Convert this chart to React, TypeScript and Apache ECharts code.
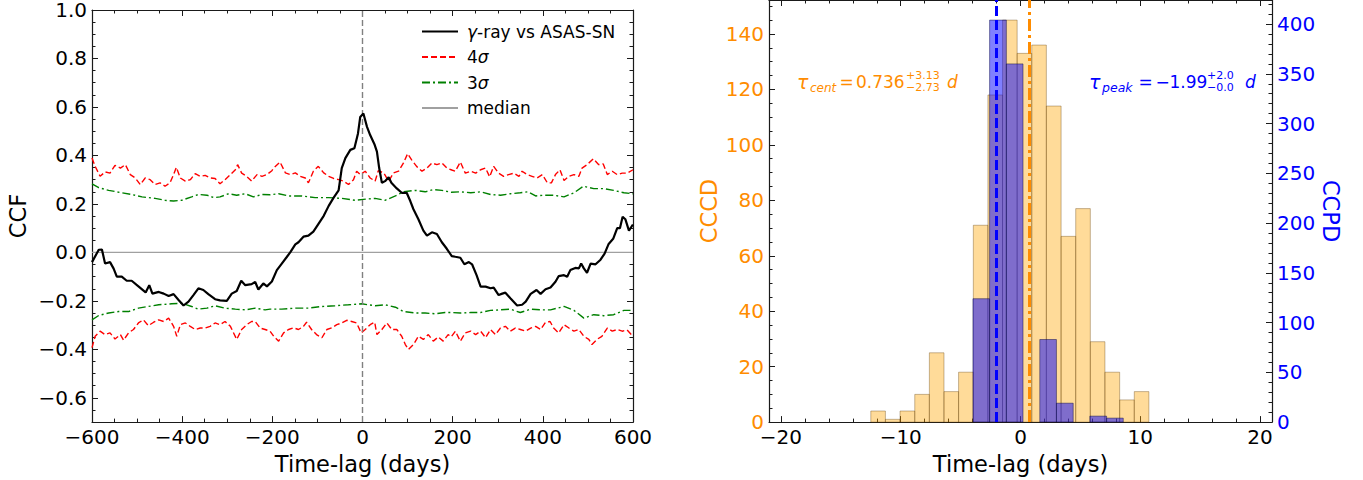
import React, { useEffect, useRef } from "react";
import * as echarts from "echarts";

// ---------- Left panel: CCF ----------
const ccfLag = [-600, -585, -578, -571, -560, -552, -545, -534, -523, -512, -497, -481, -473, -466, -452, -441, -430, -419, -408, -397, -386, -375, -364, -353, -342, -327, -316, -301, -290, -279, -269, -260, -246, -238, -231, -220, -212, -201, -190, -179, -168, -160, -149, -142, -131, -120, -109, -98, -86, -75, -64, -53, -46, -38, -27, -18, -10, -5, 2, 10, 17, 27, 32, 37, 43, 50, 58, 64, 76, 87, 98, 106, 113, 124, 135, 143, 154, 165, 176, 187, 198, 206, 217, 226, 236, 243, 253, 262, 273, 284, 291, 302, 310, 317, 328, 343, 354, 362, 373, 386, 395, 406, 417, 428, 435, 447, 454, 461, 472, 480, 485, 491, 498, 506, 517, 528, 537, 546, 556, 565, 571, 577, 583, 591, 598, 600];
const ccfVal = [-0.04, 0.011, 0.012, -0.046, -0.04, -0.067, -0.1, -0.1, -0.117, -0.117, -0.14, -0.165, -0.135, -0.17, -0.163, -0.17, -0.18, -0.172, -0.196, -0.219, -0.203, -0.176, -0.148, -0.155, -0.172, -0.193, -0.198, -0.2, -0.17, -0.159, -0.117, -0.135, -0.131, -0.122, -0.153, -0.128, -0.14, -0.12, -0.073, -0.046, -0.019, 0.001, 0.033, 0.042, 0.065, 0.069, 0.086, 0.117, 0.151, 0.192, 0.226, 0.256, 0.348, 0.389, 0.423, 0.43, 0.491, 0.559, 0.573, 0.518, 0.484, 0.444, 0.416, 0.348, 0.287, 0.294, 0.31, 0.287, 0.264, 0.246, 0.246, 0.212, 0.178, 0.137, 0.09, 0.069, 0.083, 0.076, 0.042, 0.015, -0.015, -0.018, -0.022, -0.049, -0.04, -0.049, -0.094, -0.141, -0.141, -0.148, -0.145, -0.176, -0.17, -0.166, -0.189, -0.219, -0.216, -0.203, -0.171, -0.155, -0.171, -0.152, -0.145, -0.121, -0.098, -0.094, -0.1, -0.073, -0.064, -0.066, -0.046, -0.066, -0.084, -0.046, -0.049, -0.03, -0.005, 0.035, 0.056, 0.1, 0.1, 0.147, 0.137, 0.09, 0.11, 0.115];

const sig4UpLag = [-600, -593, -582, -571, -560, -549, -537, -526, -515, -504, -493, -482, -471, -460, -449, -438, -427, -419, -413, -404, -393, -382, -371, -360, -349, -338, -327, -316, -305, -293, -282, -277, -268, -257, -246, -234, -223, -212, -201, -197, -183, -171, -160, -149, -138, -127, -120, -109, -98, -86, -75, -64, -53, -42, -31, -20, -13, -5, 6, 17, 28, 35, 47, 58, 69, 80, 91, 100, 109, 120, 132, 143, 154, 165, 176, 187, 198, 206, 217, 228, 240, 251, 262, 273, 282, 291, 302, 313, 324, 336, 347, 354, 365, 376, 387, 399, 410, 419, 428, 438, 447, 458, 469, 480, 487, 498, 512, 524, 534, 543, 554, 565, 576, 587, 600];
const sig4UpVal = [0.389, 0.355, 0.314, 0.332, 0.327, 0.359, 0.348, 0.362, 0.321, 0.307, 0.28, 0.307, 0.3, 0.28, 0.287, 0.273, 0.287, 0.321, 0.351, 0.307, 0.294, 0.3, 0.325, 0.314, 0.318, 0.307, 0.305, 0.283, 0.3, 0.321, 0.341, 0.362, 0.327, 0.314, 0.294, 0.321, 0.314, 0.321, 0.337, 0.348, 0.373, 0.328, 0.321, 0.328, 0.314, 0.307, 0.287, 0.335, 0.355, 0.328, 0.314, 0.305, 0.3, 0.294, 0.28, 0.3, 0.335, 0.321, 0.335, 0.307, 0.294, 0.337, 0.328, 0.294, 0.328, 0.335, 0.369, 0.407, 0.382, 0.355, 0.335, 0.348, 0.369, 0.362, 0.369, 0.348, 0.34, 0.335, 0.373, 0.327, 0.335, 0.327, 0.341, 0.348, 0.312, 0.355, 0.327, 0.314, 0.321, 0.327, 0.314, 0.335, 0.321, 0.314, 0.307, 0.321, 0.287, 0.287, 0.321, 0.341, 0.297, 0.314, 0.321, 0.314, 0.348, 0.362, 0.386, 0.362, 0.365, 0.321, 0.335, 0.321, 0.327, 0.327, 0.341];

const sig4LoLag = [-600, -593, -582, -571, -560, -549, -537, -530, -519, -508, -497, -486, -475, -464, -452, -441, -430, -419, -412, -404, -393, -382, -371, -360, -349, -338, -327, -316, -305, -293, -279, -268, -257, -246, -238, -227, -216, -205, -197, -186, -175, -164, -153, -142, -131, -124, -113, -102, -90, -79, -68, -57, -46, -35, -24, -13, -3, 6, 17, 27, 32, 43, 54, 65, 76, 87, 95, 102, 113, 124, 135, 146, 157, 168, 179, 190, 197, 206, 217, 228, 240, 251, 262, 273, 284, 295, 306, 317, 328, 339, 350, 362, 373, 384, 395, 406, 416, 424, 435, 447, 458, 469, 480, 491, 502, 509, 520, 531, 543, 554, 565, 576, 587, 600];
const sig4LoVal = [-0.393, -0.346, -0.325, -0.339, -0.332, -0.357, -0.339, -0.362, -0.332, -0.318, -0.291, -0.278, -0.302, -0.289, -0.278, -0.285, -0.271, -0.305, -0.346, -0.298, -0.291, -0.305, -0.318, -0.312, -0.312, -0.305, -0.291, -0.298, -0.285, -0.305, -0.359, -0.318, -0.298, -0.285, -0.285, -0.312, -0.318, -0.325, -0.346, -0.366, -0.332, -0.318, -0.311, -0.318, -0.305, -0.288, -0.318, -0.339, -0.352, -0.318, -0.311, -0.298, -0.291, -0.28, -0.285, -0.291, -0.332, -0.318, -0.298, -0.288, -0.339, -0.318, -0.291, -0.318, -0.318, -0.346, -0.38, -0.4, -0.38, -0.346, -0.359, -0.339, -0.366, -0.349, -0.366, -0.339, -0.348, -0.325, -0.366, -0.332, -0.325, -0.339, -0.325, -0.352, -0.318, -0.339, -0.312, -0.305, -0.325, -0.312, -0.318, -0.325, -0.312, -0.305, -0.318, -0.288, -0.285, -0.312, -0.332, -0.298, -0.312, -0.325, -0.318, -0.346, -0.359, -0.38, -0.359, -0.346, -0.312, -0.325, -0.318, -0.325, -0.32, -0.346];

const sig3UpLag = [-600, -585, -563, -534, -512, -489, -460, -438, -419, -401, -379, -364, -345, -330, -316, -297, -279, -260, -242, -223, -205, -186, -164, -135, -105, -75, -46, -16, 2, 28, 50, 73, 91, 117, 139, 157, 176, 197, 217, 240, 262, 284, 306, 328, 350, 367, 384, 402, 424, 447, 469, 490, 513, 535, 557, 580, 600];
const sig3UpVal = [0.283, 0.267, 0.256, 0.246, 0.239, 0.229, 0.223, 0.215, 0.212, 0.215, 0.229, 0.239, 0.236, 0.226, 0.229, 0.242, 0.236, 0.242, 0.229, 0.239, 0.238, 0.242, 0.233, 0.233, 0.226, 0.226, 0.223, 0.215, 0.219, 0.223, 0.215, 0.233, 0.25, 0.256, 0.25, 0.259, 0.256, 0.248, 0.25, 0.246, 0.25, 0.239, 0.236, 0.242, 0.246, 0.25, 0.233, 0.236, 0.236, 0.229, 0.246, 0.273, 0.263, 0.263, 0.256, 0.246, 0.242];

const sig3LoLag = [-600, -585, -563, -541, -519, -497, -475, -452, -423, -401, -379, -364, -345, -327, -305, -282, -260, -238, -216, -205, -179, -149, -120, -90, -61, -31, -2, 28, 50, 73, 91, 117, 139, 161, 183, 197, 217, 240, 262, 284, 306, 328, 350, 373, 395, 417, 447, 469, 491, 513, 535, 557, 580, 600];
const sig3LoVal = [-0.278, -0.26, -0.25, -0.244, -0.244, -0.23, -0.223, -0.216, -0.212, -0.21, -0.223, -0.234, -0.23, -0.22, -0.23, -0.234, -0.237, -0.23, -0.237, -0.234, -0.234, -0.23, -0.23, -0.223, -0.22, -0.216, -0.212, -0.22, -0.216, -0.226, -0.244, -0.25, -0.25, -0.253, -0.248, -0.248, -0.25, -0.248, -0.248, -0.239, -0.237, -0.234, -0.248, -0.234, -0.237, -0.237, -0.223, -0.239, -0.271, -0.257, -0.261, -0.257, -0.239, -0.239];

const medianLag = [-600, 600];
const medianVal = [0.0, 0.0];
const zeroLag = 0;

// ---------- Right panel: CCCD / CCPD ----------
const cccdEdges = [-12.5, -11.28, -10.06, -8.83, -7.61, -6.39, -5.17, -3.94, -2.72, -1.5, -0.28, 0.94, 2.16, 3.39, 4.61, 5.83, 7.05, 8.28, 9.5, 10.72];
const cccdCounts = [4, 1, 4, 10, 25, 11, 18, 71, 118, 145, 133, 136, 114, 67, 77, 29, 18, 8, 11];
const ccpdEdges = [-3.97, -2.58, -1.18, 0.21, 1.61, 3.0, 4.4, 5.79, 7.19, 8.58];
const ccpdCounts = [124, 404, 360, 0, 83, 19, 0, 6, 4];

const tauCent = 0.736;
const tauCentUp = 3.13;
const tauCentLo = 2.73;
const tauPeak = -1.99;
const tauPeakUp = 2.0;
const tauPeakLo = 0.0;

// ---------- tick labels ----------
const leftXTicks = [-600, -400, -200, 0, 200, 400, 600];
const leftYTicks = [-0.6, -0.4, -0.2, 0.0, 0.2, 0.4, 0.6, 0.8, 1.0];
const rightXTicks = [-20, -10, 0, 10, 20];
const cccdTicks = [0, 20, 40, 60, 80, 100, 120, 140];
const ccpdTicks = [0, 50, 100, 150, 200, 250, 300, 350, 400];

const range = (a: number, b: number, s: number) => {
  const out: number[] = [];
  const n = Math.round((b - a) / s);
  for (let i = 0; i <= n; i++) out.push(+(a + i * s).toFixed(6));
  return out;
};
const leftXMinor = range(-600, 600, 50);
const leftYMinor = range(-0.7, 1.0, 0.05);
const rightXMinor = range(-20, 20, 2);
const cccdMinor = range(0, 150, 5);
const ccpdMinor = range(0, 420, 10);

const FONT = "DejaVu Sans";
const MINUS = "\u2212";
const ORANGE = "#ff8c00";
const BLUE = "#0000ff";
const fmt = (v: number, d: number) => (v < -1e-9 ? MINUS : "") + Math.abs(v).toFixed(d);
const zip = (a: number[], b: number[]) => a.map((x, i) => [x, b[i]]);

const AXIS_COLOR = "#1a1a1a";
const MAJOR = 6;
const MINOR = 3.5;

function axis(o: {
  grid: number; min: number; max: number; position: string;
  ticks: number[]; len: number; line?: boolean; labels?: number[];
  digits?: number; color?: string; name?: string; nameGap?: number; nameRotate?: number; vertical?: boolean;
}) {
  const a: any = {
    type: "value",
    gridIndex: o.grid,
    min: o.min,
    max: o.max,
    position: o.position,
    splitLine: { show: false },
    axisLine: { show: !!o.line, onZero: false, lineStyle: { color: AXIS_COLOR, width: 1.2 } },
    axisTick: { show: true, inside: true, length: o.len, customValues: o.ticks, lineStyle: { color: AXIS_COLOR, width: 1 } },
    axisLabel: { show: false },
  };
  if (o.labels) {
    a.axisLabel = {
      show: true,
      customValues: o.labels,
      formatter: (v: number) => fmt(v, o.digits ?? 0),
      fontSize: 20,
      fontFamily: FONT,
      color: o.color ?? "#000",
      margin: 5,
    };
    if (o.vertical) a.axisLabel.lineHeight = 14;
  }
  if (o.name) {
    a.name = o.name;
    a.nameLocation = "middle";
    a.nameGap = o.nameGap;
    if (o.nameRotate !== undefined) a.nameRotate = o.nameRotate;
    a.nameTextStyle = { fontSize: 22.5, fontFamily: FONT, color: o.color ?? "#000" };
  }
  return a;
}

const xAxes = [
  axis({ grid: 0, min: -600, max: 600, position: "bottom", ticks: leftXTicks, len: MAJOR, line: true, labels: leftXTicks, name: "Time-lag (days)", nameGap: 27 }),
  axis({ grid: 0, min: -600, max: 600, position: "bottom", ticks: leftXMinor, len: MINOR }),
  axis({ grid: 0, min: -600, max: 600, position: "top", ticks: leftXTicks, len: MAJOR, line: true }),
  axis({ grid: 0, min: -600, max: 600, position: "top", ticks: leftXMinor, len: MINOR }),
  axis({ grid: 1, min: -21, max: 21, position: "bottom", ticks: rightXTicks, len: MAJOR, line: true, labels: rightXTicks, name: "Time-lag (days)", nameGap: 27 }),
  axis({ grid: 1, min: -21, max: 21, position: "bottom", ticks: rightXMinor, len: MINOR }),
  axis({ grid: 1, min: -21, max: 21, position: "top", ticks: rightXTicks, len: MAJOR, line: true }),
  axis({ grid: 1, min: -21, max: 21, position: "top", ticks: rightXMinor, len: MINOR }),
];

const yAxes = [
  axis({ grid: 0, min: -0.7, max: 1.0, position: "left", ticks: leftYTicks, len: MAJOR, line: true, labels: leftYTicks, digits: 1, name: "CCF", nameGap: 63, vertical: true }),
  axis({ grid: 0, min: -0.7, max: 1.0, position: "left", ticks: leftYMinor, len: MINOR }),
  axis({ grid: 0, min: -0.7, max: 1.0, position: "right", ticks: leftYTicks, len: MAJOR, line: true }),
  axis({ grid: 0, min: -0.7, max: 1.0, position: "right", ticks: leftYMinor, len: MINOR }),
  axis({ grid: 1, min: 0, max: 152.25, position: "left", ticks: cccdTicks, len: MAJOR, line: true, labels: cccdTicks, color: ORANGE, name: "CCCD", nameGap: 49, vertical: true }),
  axis({ grid: 1, min: 0, max: 152.25, position: "left", ticks: cccdMinor, len: MINOR }),
  axis({ grid: 1, min: 0, max: 424.2, position: "right", ticks: ccpdTicks, len: MAJOR, line: true, labels: ccpdTicks, color: BLUE, name: "CCPD", nameGap: 47, nameRotate: -90, vertical: true }),
  axis({ grid: 1, min: 0, max: 424.2, position: "right", ticks: ccpdMinor, len: MINOR }),
];

const histData = (edges: number[], counts: number[]) => counts.map((c, i) => [edges[i], edges[i + 1], c]);

const histSeries = (name: string, data: number[][], yIdx: number, fill: string, stroke: string, z: number, mark: any) => ({
  type: "custom",
  name,
  xAxisIndex: 4,
  yAxisIndex: yIdx,
  z,
  encode: { x: [0, 1], y: 2 },
  data,
  renderItem: (params: any, api: any) => {
    const x0 = api.value(0), x1 = api.value(1), h = api.value(2);
    if (!h) return null;
    const p0 = api.coord([x0, h]);
    const p1 = api.coord([x1, 0]);
    return {
      type: "rect",
      shape: { x: p0[0], y: p0[1], width: p1[0] - p0[0], height: p1[1] - p0[1] },
      style: { fill, stroke, lineWidth: 1 },
    };
  },
  markLine: mark,
});

const lineSeries = (name: string, lag: number[], val: number[], color: string, type: any, width: number, z = 2) => ({
  type: "line",
  name,
  xAxisIndex: 0,
  yAxisIndex: 0,
  data: zip(lag, val),
  symbol: "none",
  z,
  lineStyle: { color, width, type },
  itemStyle: { color },
});

const RED_DASH = [6, 3];
const GREEN_DASHDOT = [8, 3, 2, 3];

// annotation texts
const tText = (text: string, x: number, y: number, size: number, color: string, italic = false) => ({
  type: "text",
  x,
  y,
  silent: true,
  style: { text, fill: color, fontSize: size, fontFamily: FONT, fontStyle: italic ? "italic" : "normal", align: "left", verticalAlign: "middle" },
});

const graphics = [
  tText("τ", 797, 82, 19, ORANGE, true),
  tText("cent", 810, 87.5, 12, ORANGE, true),
  tText("=", 839.5, 82, 17, ORANGE),
  tText(tauCent.toFixed(3), 856, 82, 17, ORANGE),
  tText("+" + tauCentUp.toFixed(2), 906, 75.5, 11, ORANGE),
  tText(MINUS + tauCentLo.toFixed(2), 906, 87.2, 11, ORANGE),
  tText("d", 947, 82, 17, ORANGE, true),
  tText("τ", 1089, 82, 19, BLUE, true),
  tText("peak", 1102, 87.5, 12.5, BLUE, true),
  tText("=", 1138.5, 82, 17, BLUE),
  tText(MINUS, 1155.5, 82, 17, BLUE),
  tText(Math.abs(tauPeak).toFixed(2), 1169.5, 82, 17, BLUE),
  tText("+" + tauPeakUp.toFixed(1), 1207, 75.5, 11, BLUE),
  tText(MINUS + tauPeakLo.toFixed(1), 1207, 87.2, 11, BLUE),
  tText("d", 1245, 82, 17, BLUE, true),
];

const option: any = {
  animation: false,
  backgroundColor: "#fff",
  textStyle: { fontFamily: FONT },
  grid: [
    { left: 92, top: 7, width: 541, height: 416, containLabel: false },
    { left: 769, top: -1, width: 503, height: 424, containLabel: false },
  ],
  xAxis: xAxes,
  yAxis: yAxes,
  legend: {
    show: true,
    orient: "vertical",
    left: 416,
    top: 18,
    itemWidth: 36,
    itemHeight: 17,
    itemGap: 8.5,
    data: ["γ-ray vs ASAS-SN", "4σ", "3σ", "median"],
    selectedMode: false,
    itemStyle: { opacity: 0, borderWidth: 0 },
    formatter: (name: string) => {
      if (name === "γ-ray vs ASAS-SN") return "{i|γ}-ray vs ASAS-SN";
      if (name === "4σ") return "4{i|σ}";
      if (name === "3σ") return "3{i|σ}";
      return name;
    },
    textStyle: {
      fontFamily: FONT,
      fontSize: 17,
      color: "#000",
      padding: [0, 0, 0, 4],
      rich: { i: { fontStyle: "italic", fontFamily: FONT, fontSize: 17, color: "#000" } },
    },
  },
  graphic: graphics,
  series: [
    lineSeries("4σ", sig4UpLag, sig4UpVal, "#ff0000", RED_DASH, 1.4),
    lineSeries("4σ", sig4LoLag, sig4LoVal, "#ff0000", RED_DASH, 1.4),
    lineSeries("3σ", sig3UpLag, sig3UpVal, "#008000", GREEN_DASHDOT, 1.4),
    lineSeries("3σ", sig3LoLag, sig3LoVal, "#008000", GREEN_DASHDOT, 1.4),
    {
      ...lineSeries("median", medianLag, medianVal, "#a0a0a0", "solid", 1.4),
      markLine: {
        silent: true,
        symbol: ["none", "none"],
        label: { show: false },
        lineStyle: { color: "#808080", type: [6, 3], width: 1.4 },
        data: [{ xAxis: zeroLag }],
      },
    },
    lineSeries("γ-ray vs ASAS-SN", ccfLag, ccfVal, "#000000", "solid", 2.2, 6),
    histSeries("CCCD", histData(cccdEdges, cccdCounts), 4, "rgba(255,165,0,0.4)", "rgba(90,55,0,0.35)", 2, {
      silent: true,
      symbol: ["none", "none"],
      label: { show: false },
      data: [{ xAxis: tauCent, lineStyle: { color: ORANGE, type: [12, 4, 3, 4], width: 3 } }],
    }),
    histSeries("CCPD", histData(ccpdEdges, ccpdCounts), 6, "rgba(0,0,255,0.5)", "rgba(0,0,60,0.45)", 3, {
      silent: true,
      symbol: ["none", "none"],
      label: { show: false },
      data: [{ xAxis: tauPeak, lineStyle: { color: BLUE, type: [10, 4], width: 3 } }],
    }),
  ],
};

export default function App() {
  const ref = useRef<HTMLDivElement>(null);
  useEffect(() => {
    document.body.style.margin = "0";
    const chart = echarts.init(ref.current!, null, { renderer: "svg" });
    chart.setOption(option);
    return () => chart.dispose();
  }, []);
  return <div ref={ref} style={{ width: 1363, height: 480 }} />;
}
